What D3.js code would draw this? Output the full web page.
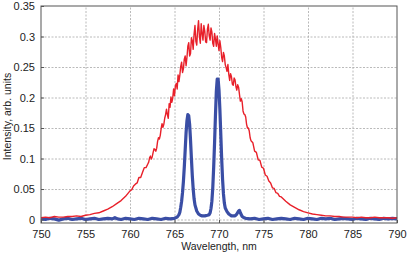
<!DOCTYPE html>
<html>
<head>
<meta charset="utf-8">
<script src="https://cdn.jsdelivr.net/npm/d3@7"></script>
<style>
  html, body { margin: 0; padding: 0; background: #fff; }
  svg { display: block; font-family: "Liberation Sans", Arial, sans-serif; }
  .grid line { stroke: #a8a8a8; stroke-width: 0.8; stroke-dasharray: 2,1.5; }
  .grid path { display: none; }
  .tick text { fill: #222; font-size: 11px; }
</style>
</head>
<body>
<svg id="chart" width="407" height="256"></svg>
<script>
// axis ticks
var xTicks = [750, 755, 760, 765, 770, 775, 780, 785, 790];
var yTicks = [0, 0.05, 0.1, 0.15, 0.2, 0.25, 0.3, 0.35];
var xLabel = "Wavelength, nm";
var yLabel = "Intensity, arb. units";

// broad (red) spectrum, [wavelength nm, intensity]
var redSpectrum = [
  [750, 0.003], [750.5, 0.004], [751, 0.003], [751.5, 0.005], [752, 0.004], [752.5, 0.004],
  [753, 0.005], [753.5, 0.005], [754, 0.006], [754.5, 0.005], [755, 0.007], [755.5, 0.008],
  [756, 0.010], [756.5, 0.011], [757, 0.014], [757.5, 0.017], [758, 0.021], [758.5, 0.026],
  [759, 0.031], [759.5, 0.038], [760, 0.047], [760.2, 0.049], [760.4, 0.055], [760.6, 0.058],
  [760.8, 0.060], [761, 0.069], [761.2, 0.069], [761.4, 0.077], [761.6, 0.085], [761.8, 0.085],
  [762, 0.091], [762.1, 0.094], [762.2, 0.101], [762.3, 0.104], [762.4, 0.099], [762.5, 0.103],
  [762.6, 0.110], [762.7, 0.116], [762.8, 0.115], [762.9, 0.112], [763, 0.117], [763.1, 0.128],
  [763.2, 0.134], [763.3, 0.132], [763.4, 0.138], [763.5, 0.149], [763.6, 0.157], [763.7, 0.151],
  [763.8, 0.156], [763.9, 0.166], [764, 0.172], [764.1, 0.181], [764.2, 0.172], [764.3, 0.166],
  [764.4, 0.190], [764.5, 0.184], [764.6, 0.201], [764.7, 0.192], [764.8, 0.199], [764.9, 0.214],
  [765, 0.203], [765.1, 0.219], [765.2, 0.223], [765.3, 0.214], [765.4, 0.237], [765.5, 0.226],
  [765.6, 0.237], [765.7, 0.251], [765.8, 0.258], [765.9, 0.241], [766, 0.247], [766.1, 0.263],
  [766.2, 0.268], [766.3, 0.252], [766.4, 0.266], [766.5, 0.284], [766.6, 0.290], [766.7, 0.268],
  [766.8, 0.272], [766.9, 0.298], [767, 0.293], [767.1, 0.279], [767.2, 0.304], [767.3, 0.318],
  [767.4, 0.292], [767.5, 0.286], [767.6, 0.311], [767.7, 0.326], [767.8, 0.300], [767.9, 0.289],
  [768, 0.321], [768.1, 0.305], [768.2, 0.294], [768.3, 0.318], [768.4, 0.309], [768.5, 0.291],
  [768.6, 0.290], [768.7, 0.312], [768.8, 0.320], [768.9, 0.301], [769, 0.294], [769.1, 0.314],
  [769.2, 0.307], [769.3, 0.289], [769.4, 0.284], [769.5, 0.305], [769.6, 0.296], [769.7, 0.284],
  [769.8, 0.301], [769.9, 0.288], [770, 0.277], [770.1, 0.293], [770.2, 0.282], [770.3, 0.266],
  [770.4, 0.259], [770.5, 0.274], [770.6, 0.268], [770.7, 0.254], [770.8, 0.249], [770.9, 0.243],
  [771, 0.254], [771.1, 0.238], [771.2, 0.228], [771.3, 0.239], [771.4, 0.234], [771.5, 0.222],
  [771.6, 0.220], [771.7, 0.232], [771.8, 0.229], [771.9, 0.218], [772, 0.212], [772.1, 0.221],
  [772.2, 0.217], [772.3, 0.205], [772.4, 0.194], [772.5, 0.198], [772.6, 0.193], [772.7, 0.178],
  [772.8, 0.173], [772.9, 0.172], [773, 0.168], [773.1, 0.156], [773.2, 0.150], [773.3, 0.150],
  [773.4, 0.145], [773.5, 0.134], [773.6, 0.129], [773.8, 0.126], [774, 0.112], [774.2, 0.110],
  [774.4, 0.098], [774.6, 0.097], [774.8, 0.086], [775, 0.084], [775.2, 0.073], [775.4, 0.071],
  [775.6, 0.063], [775.8, 0.060], [776, 0.052], [776.2, 0.051], [776.4, 0.044], [776.6, 0.043],
  [776.8, 0.038], [777, 0.037], [777.5, 0.030], [778, 0.024], [778.5, 0.020], [779, 0.016],
  [779.5, 0.013], [780, 0.011], [780.5, 0.009], [781, 0.008], [781.5, 0.007], [782, 0.006],
  [782.5, 0.006], [783, 0.005], [783.5, 0.005], [784, 0.004], [784.5, 0.004], [785, 0.004],
  [785.5, 0.003], [786, 0.004], [786.5, 0.003], [787, 0.003], [787.5, 0.004], [788, 0.003],
  [788.5, 0.003], [789, 0.003], [789.5, 0.002], [790, 0.003]
];

// narrow (blue) spectrum, [wavelength nm, intensity]
var blueSpectrum = [
  [750, 0.001], [750.5, 0.000], [751, 0.002], [751.5, 0.001], [752, -0.001], [752.5, 0.001],
  [753, 0.002], [753.5, 0.000], [754, 0.001], [754.5, 0.002], [755, 0.000], [755.5, 0.001],
  [756, 0.002], [756.5, 0.000], [757, 0.001], [757.5, 0.002], [758, 0.001], [758.3, 0.003],
  [758.6, 0.001], [759, 0.000], [759.5, 0.002], [760, 0.001], [760.5, 0.000], [761, 0.002],
  [761.5, 0.001], [762, 0.000], [762.5, 0.002], [763, 0.001], [763.5, 0.000], [764, 0.002],
  [764.5, 0.001], [765, 0.002], [765.3, 0.004], [765.5, 0.008], [765.6, 0.012], [765.7, 0.020],
  [765.8, 0.030], [765.9, 0.044], [766, 0.062], [766.1, 0.086], [766.2, 0.114], [766.3, 0.142],
  [766.4, 0.162], [766.5, 0.172], [766.6, 0.170], [766.7, 0.156], [766.8, 0.130], [766.9, 0.100],
  [767, 0.072], [767.1, 0.050], [767.2, 0.034], [767.3, 0.024], [767.5, 0.014], [767.7, 0.009],
  [767.9, 0.007], [768.1, 0.006], [768.4, 0.006], [768.7, 0.007], [768.9, 0.008], [769, 0.011],
  [769.1, 0.018], [769.2, 0.030], [769.3, 0.052], [769.4, 0.085], [769.5, 0.125], [769.6, 0.170],
  [769.7, 0.210], [769.8, 0.230], [769.9, 0.230], [770, 0.212], [770.1, 0.180], [770.2, 0.140],
  [770.3, 0.100], [770.4, 0.066], [770.5, 0.042], [770.6, 0.027], [770.7, 0.019], [770.9, 0.013],
  [771.1, 0.009], [771.4, 0.006], [771.8, 0.006], [772, 0.009], [772.2, 0.014], [772.3, 0.015],
  [772.4, 0.011], [772.6, 0.005], [772.8, 0.003], [773, 0.002], [773.5, 0.001], [774, 0.002],
  [774.5, 0.000], [775, 0.001], [775.5, 0.002], [776, 0.000], [776.5, 0.001], [777, 0.002],
  [777.5, 0.001], [778, 0.000], [778.5, 0.002], [779, 0.001], [779.5, 0.000], [780, 0.002],
  [780.5, 0.001], [781, 0.000], [781.5, 0.002], [782, 0.001], [782.5, 0.002], [783, 0.000],
  [783.5, 0.001], [784, 0.002], [784.5, 0.001], [785, 0.000], [785.5, 0.002], [786, 0.001],
  [786.5, 0.000], [787, 0.002], [787.5, 0.001], [788, 0.000], [788.5, 0.002], [789, 0.001],
  [789.5, 0.002], [790, 0.001]
];

var margin = {top: 6, right: 10, bottom: 33, left: 41};
var width = 407 - margin.left - margin.right,
    height = 256 - margin.top - margin.bottom;

var svg = d3.select("#chart");
var g = svg.append("g").attr("transform", "translate(" + margin.left + "," + margin.top + ")");

var x = d3.scaleLinear().domain([750, 790]).range([0, width]);
var y = d3.scaleLinear().domain([-0.0057, 0.35]).range([height, 0]);

// dotted grid
g.append("g").attr("class", "grid")
  .attr("transform", "translate(0," + height + ")")
  .call(d3.axisBottom(x).tickValues(xTicks.slice(1, -1)).tickSize(-height).tickFormat(""));
g.append("g").attr("class", "grid")
  .call(d3.axisLeft(y).tickValues(yTicks.slice(0, -1)).tickSize(-width).tickFormat(""));

// spectra
var line = d3.line()
  .x(function (d) { return x(d[0]); })
  .y(function (d) { return y(d[1]); });

g.append("path").datum(blueSpectrum)
  .attr("fill", "none").attr("stroke", "#3a4ea5").attr("stroke-width", 3.2)
  .attr("stroke-linejoin", "round").attr("d", line);
g.append("path").datum(redSpectrum)
  .attr("fill", "none").attr("stroke", "#e8202a").attr("stroke-width", 1.4)
  .attr("stroke-linejoin", "round").attr("d", line);

// axes with inward ticks, labels outside
var xAxis = g.append("g")
  .attr("transform", "translate(0," + height + ")")
  .call(d3.axisBottom(x).tickValues(xTicks).tickSize(-3).tickPadding(7).tickFormat(d3.format("d")));
var yAxis = g.append("g")
  .call(d3.axisLeft(y).tickValues(yTicks).tickSize(-3).tickPadding(6)
    .tickFormat(function (d) { return d === 0 ? "0" : d3.format("")(+d.toFixed(2)); }));
[xAxis, yAxis].forEach(function (a) {
  a.select(".domain").remove();
  a.selectAll(".tick line").attr("stroke", "#555");
});

// box
g.append("rect").attr("width", width).attr("height", height)
  .attr("fill", "none").attr("stroke", "#555").attr("stroke-width", 1);

// axis titles
svg.append("text")
  .attr("x", margin.left + width / 2).attr("y", 250)
  .attr("text-anchor", "middle").attr("font-size", 10.5).attr("fill", "#222")
  .text(xLabel);
svg.append("text")
  .attr("transform", "translate(11," + (margin.top + height / 2 + 2) + ") rotate(-90)")
  .attr("text-anchor", "middle").attr("font-size", 10.5).attr("fill", "#222")
  .text(yLabel);
</script>
</body>
</html>
